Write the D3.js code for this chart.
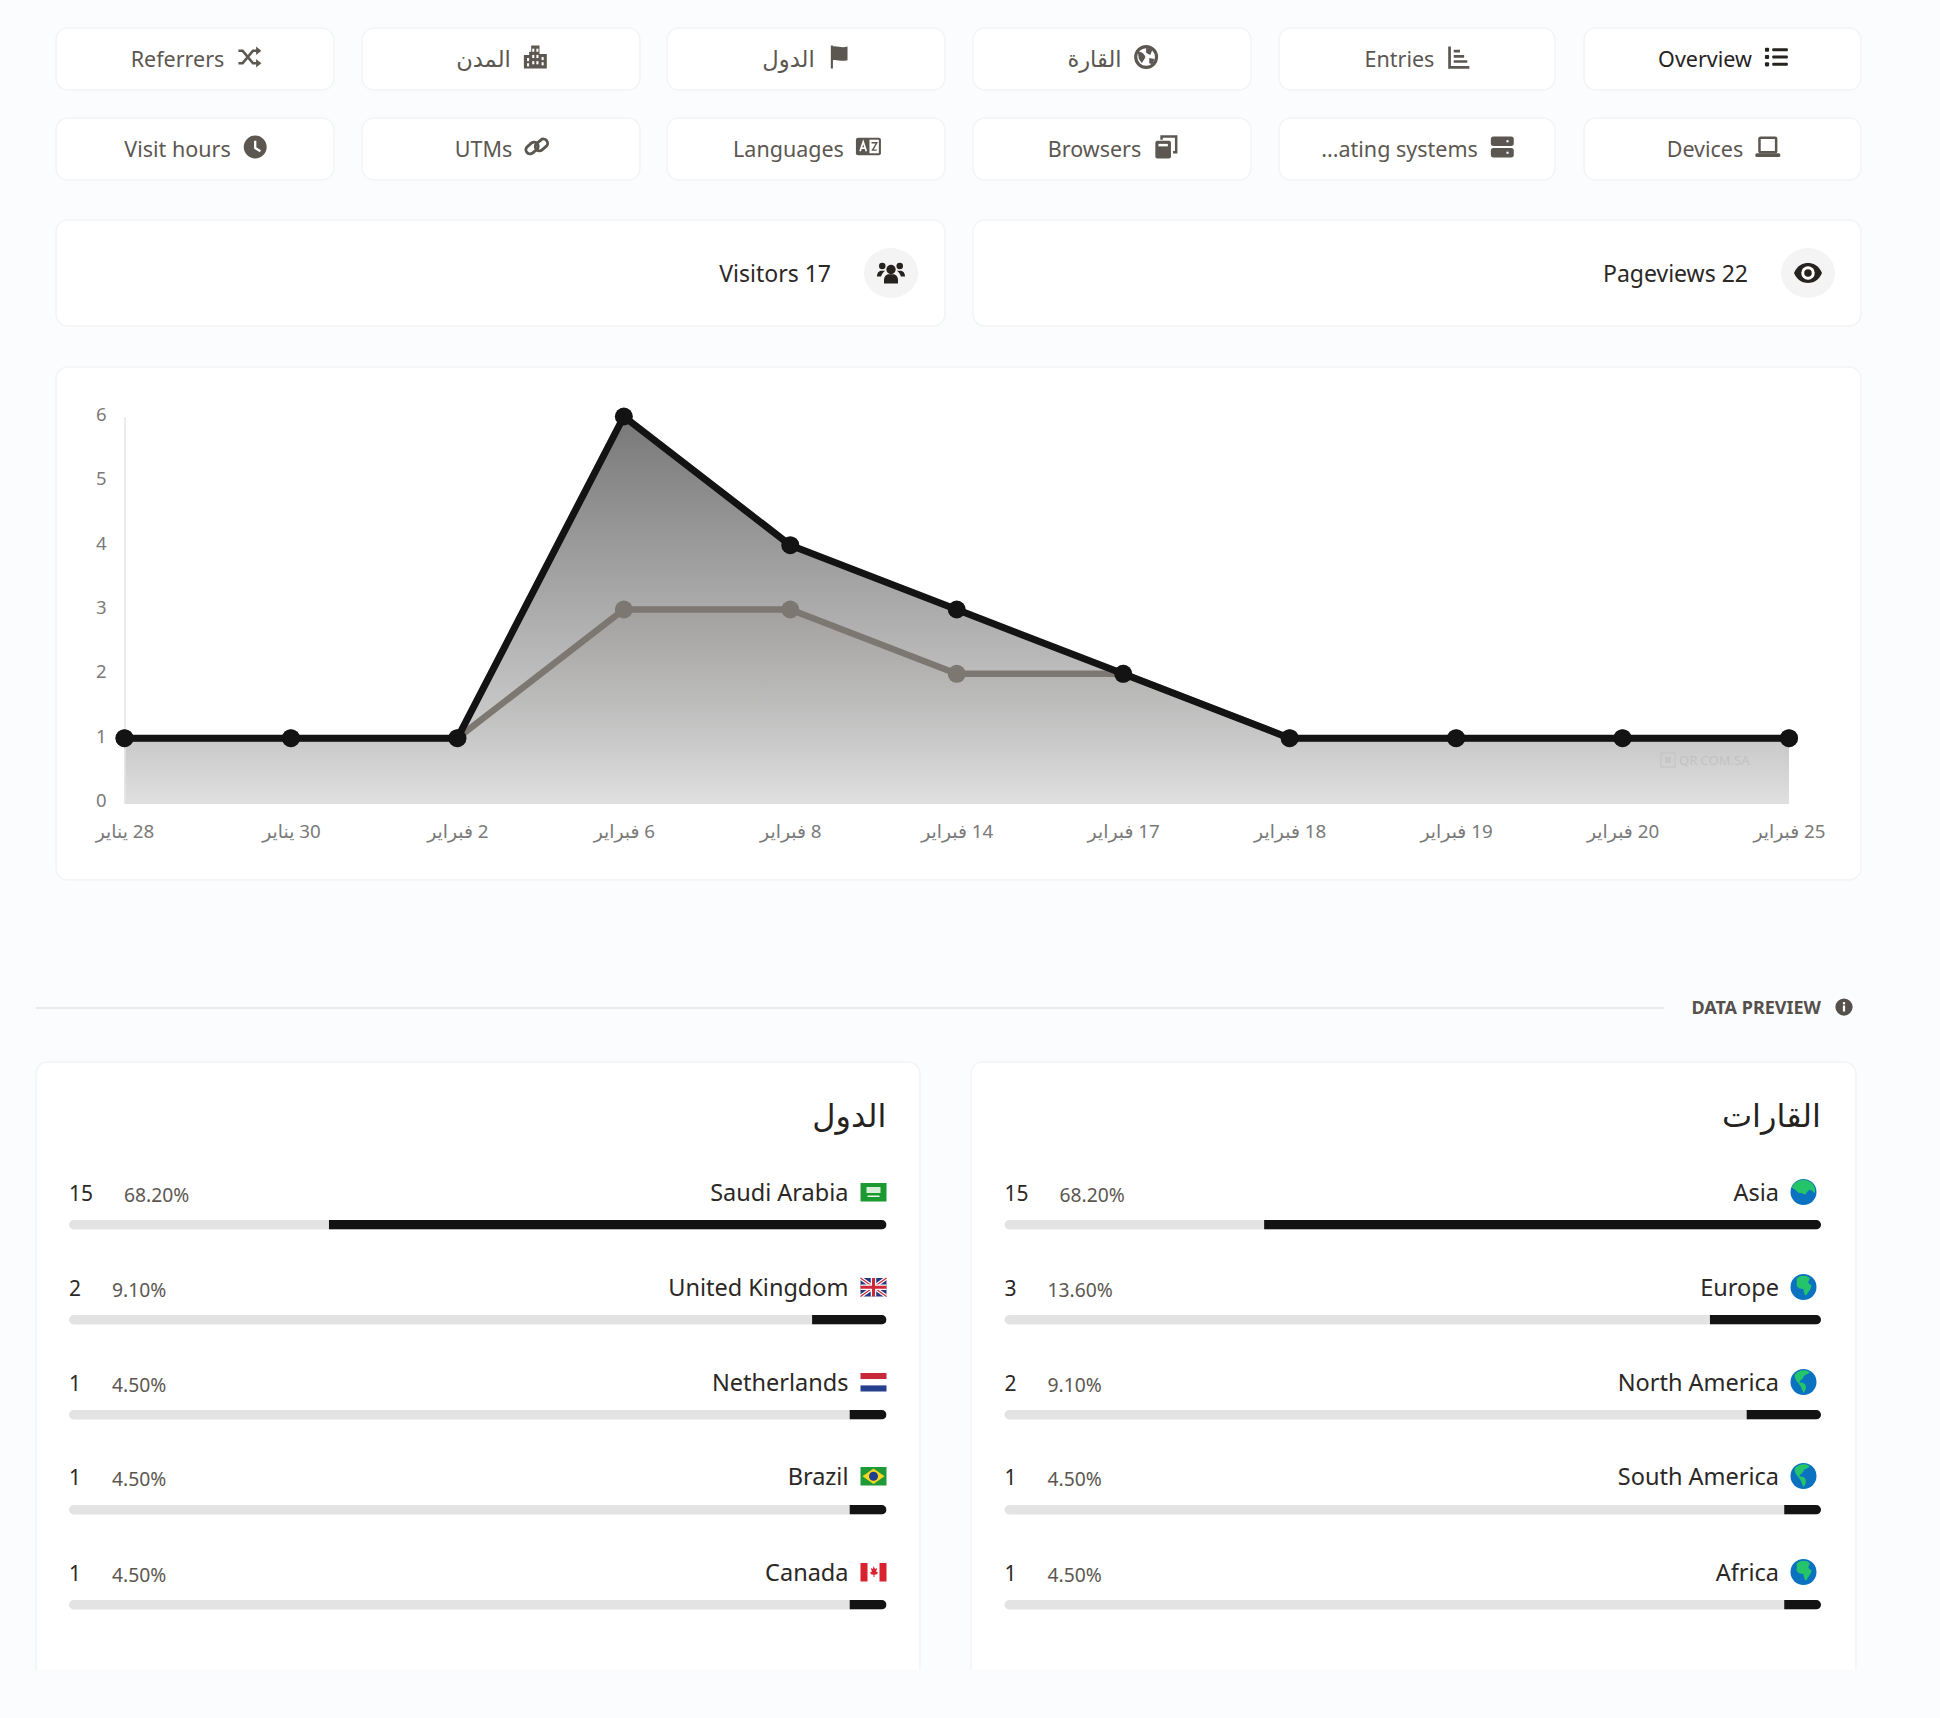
<!DOCTYPE html>
<html>
<head>
<meta charset="utf-8">
<script src="https://cdn.jsdelivr.net/npm/d3@7"></script>
<style>
  html, body { margin: 0; padding: 0; background: #fbfcfe; }
  svg { display: block; }
  text { font-family: "Noto Sans", "DejaVu Sans", sans-serif; }
</style>
</head>
<body>
<div id="page"></div>
<script>
// chart data
const dateLabels = ["28 يناير", "30 يناير", "2 فبراير", "6 فبراير", "8 فبراير", "14 فبراير", "17 فبراير", "18 فبراير", "19 فبراير", "20 فبراير", "25 فبراير"];
const pageviews = [1, 1, 1, 6, 4, 3, 2, 1, 1, 1, 1];
const visitors = [1, 1, 1, 3, 3, 2, 2, 1, 1, 1, 1];

// tabs, listed left to right as they sit on the page
const tabRow1 = ["Referrers", "المدن", "الدول", "القارة", "Entries", "Overview"];
const tabRow1Icons = ["shuffle", "city", "flag", "globe", "chart", "list"];
const tabRow2 = ["Visit hours", "UTMs", "Languages", "Browsers", "...ating systems", "Devices"];
const tabRow2Icons = ["clock", "link", "language", "copy", "server", "laptop"];

const statLabels = ["Visitors 17", "Pageviews 22"];
const statIcons = ["users", "eye"];

const countryNames = ["Saudi Arabia", "United Kingdom", "Netherlands", "Brazil", "Canada"];
const countryCounts = [15, 2, 1, 1, 1];
const countryPercents = [68.2, 9.1, 4.5, 4.5, 4.5];
const countryFlags = ["sa", "gb", "nl", "br", "ca"];

const continentNames = ["Asia", "Europe", "North America", "South America", "Africa"];
const continentCounts = [15, 3, 2, 1, 1];
const continentPercents = [68.2, 13.6, 9.1, 4.5, 4.5];
const continentGlobes = ["asia", "africa", "america", "america", "africa"];

const iconShapes = {
  shuffle: '<path d="M2 6h4l10 12h5M2 18h4l10-12h5" fill="none" stroke="currentColor" stroke-width="2.6"/><path d="M19 2l5 4-5 4zM19 14l5 4-5 4z" fill="currentColor"/>',
  city: '<path d="M1 10h5v-3h2v-6h8v8h7v14H1z" fill="currentColor"/><g fill="#fff"><rect x="4" y="13" width="2" height="3"/><rect x="4" y="18" width="2" height="3"/><rect x="9" y="4" width="2" height="3"/><rect x="13" y="4" width="2" height="3"/><rect x="9" y="10" width="2" height="3"/><rect x="13" y="10" width="2" height="3"/><rect x="9" y="16" width="2" height="3"/><rect x="13" y="16" width="2" height="3"/><rect x="18" y="12" width="2" height="3"/><rect x="18" y="17" width="2" height="3"/></g>',
  flag: '<path d="M4 1h2v1c4-1 8 2 14 0v13c-6 2-10-1-14 0v8H4z" fill="currentColor"/>',
  globe: '<circle cx="12" cy="12" r="10" fill="none" stroke="currentColor" stroke-width="3"/><path d="M4 7c4 0 6 2 7 4s-2 4-3 7l-3-4zM12 3l6 2-2 5-4-2zM15 13l5 1-2 5-3-1z" fill="currentColor"/>',
  chart: '<path d="M3 2v20h19" fill="none" stroke="currentColor" stroke-width="2.6"/><path d="M7 5h6v2.6H7zM7 10h10v2.6H7zM7 15h13v2.6H7z" fill="currentColor"/>',
  list: '<g fill="currentColor"><rect x="1" y="3" width="4" height="4" rx="1"/><rect x="1" y="10" width="4" height="4" rx="1"/><rect x="1" y="17" width="4" height="4" rx="1"/><rect x="8" y="3.5" width="15" height="3" rx="1"/><rect x="8" y="10.5" width="15" height="3" rx="1"/><rect x="8" y="17.5" width="15" height="3" rx="1"/></g>',
  clock: '<circle cx="12" cy="12" r="11" fill="currentColor"/><path d="M12 6v7l5 3" fill="none" stroke="#fff" stroke-width="2.2"/>',
  link: '<g fill="none" stroke="currentColor" stroke-width="2.8"><rect x="1" y="9" width="13" height="8" rx="4" transform="rotate(-40 7.5 13)"/><rect x="10" y="6" width="13" height="8" rx="4" transform="rotate(-40 16.5 10)"/></g>',
  language: '<rect x="0" y="3" width="24" height="17" rx="2" fill="currentColor"/><rect x="13" y="5" width="9" height="13" fill="#fff"/><path d="M4 16l3-9 3 9M5 13h4" fill="none" stroke="#fff" stroke-width="1.6"/><path d="M15 8h5l-4 7h4" fill="none" stroke="currentColor" stroke-width="1.4"/>',
  copy: '<path d="M8 5V2h14v15h-3" fill="none" stroke="currentColor" stroke-width="2.4"/><rect x="2" y="6" width="15" height="17" rx="2" fill="currentColor"/><rect x="5" y="9" width="9" height="2.4" fill="#fff"/>',
  server: '<g fill="currentColor"><rect x="1" y="2" width="22" height="9" rx="2.5"/><rect x="1" y="13" width="22" height="9" rx="2.5"/></g><g fill="#fff"><rect x="16" y="5.5" width="2" height="2"/><rect x="16" y="16.5" width="2" height="2"/></g>',
  laptop: '<rect x="4" y="3" width="16" height="14" rx="1" fill="none" stroke="currentColor" stroke-width="2.4"/><rect x="0" y="18" width="24" height="3.6" rx="1.5" fill="currentColor"/>',
  users: '<g fill="currentColor"><circle cx="12" cy="9" r="4"/><circle cx="4.5" cy="6" r="2.8"/><circle cx="19.5" cy="6" r="2.8"/><path d="M6 21v-3c0-3 2-5 4-5h4c2 0 4 2 4 5v3z"/><path d="M0 15c0-3 1.5-5 4-5h3c-2 1.4-3 3-3.5 5zM24 15c0-3-1.5-5-4-5h-3c2 1.4 3 3 3.5 5z"/></g>',
  eye: '<path d="M0 12C3 5 8 3.5 12 3.5S21 5 24 12c-3 7-8 8.5-12 8.5S3 19 0 12z" fill="currentColor"/><circle cx="12" cy="12" r="5.8" fill="#fff"/><circle cx="12" cy="12" r="3.2" fill="currentColor"/>',
  info: '<circle cx="12" cy="12" r="11.5" fill="currentColor"/><rect x="10.5" y="10" width="3" height="8" fill="#fff"/><rect x="10.5" y="5.5" width="3" height="3" fill="#fff"/>'
};

const flagShapes = {
  sa: '<rect width="26" height="18.5" fill="#1c9a32"/><rect x="6" y="4" width="14" height="6" fill="#d6efd6"/><rect x="7" y="12.5" width="12" height="1.5" fill="#e8f5e8"/>',
  gb: '<rect width="26" height="18.5" fill="#24387f"/><path d="M0 0L26 18.5M26 0L0 18.5" stroke="#fff" stroke-width="3.5"/><path d="M0 0L26 18.5M26 0L0 18.5" stroke="#d0283a" stroke-width="1.2"/><path d="M13 0V18.5M0 9.25H26" stroke="#fff" stroke-width="5.5"/><path d="M13 0V18.5M0 9.25H26" stroke="#d0283a" stroke-width="3"/>',
  nl: '<rect width="26" height="6.2" fill="#c8283a"/><rect y="6.2" width="26" height="6.2" fill="#fff"/><rect y="12.4" width="26" height="6.1" fill="#26408f"/>',
  br: '<rect width="26" height="18.5" fill="#1f9a39"/><path d="M13 1.5L24 9.25 13 17 2 9.25z" fill="#f7d520"/><circle cx="13" cy="9.25" r="4.5" fill="#1d3f8f"/>',
  ca: '<rect width="26" height="18.5" fill="#fff"/><rect width="7" height="18.5" fill="#d8232f"/><rect x="19" width="7" height="18.5" fill="#d8232f"/><path d="M13 3l1.5 3 2-1-.8 4 1.8.2-1 2-2.5.5v2.3h-1V11.7L10.5 11.2l-1-2 1.8-.2-.8-4 2 1z" fill="#d8232f"/>'
};

const globeShapes = {
  asia: '<path d="M1 9C4 2 12-1 18 2c5 2 8 8 6 12-2-1-3-4-5-3-3 1-3 6-6 4-2-2-4 0-6-2C5 11 3 9 1 9z" fill="#25c46a"/>',
  africa: '<path d="M6 5c3-4 10-4 13-1 1 2-2 3-1 5s3 1 3 3c-1 4-3 5-5 9-2 1-3-4-3-6-3 0-6-1-7-4 0-2 1-3 0-6z" fill="#25c46a"/>',
  america: '<path d="M4 6c3-5 11-6 15-3-1 3-5 2-6 5s-4 3-4 6c2-1 5 0 6 2 1 3 0 6-2 8-1-2-2-5-3-7S4 11 4 6z" fill="#25c46a"/>'
};

const W = 1940, H = 1718;
const svg = d3.select("#page").append("svg").attr("width", W).attr("height", H);
const defs = svg.append("defs");

svg.append("rect").attr("width", W).attr("height", H).attr("fill", "#fbfcfe");

function card(x0, y0, x1, y1) {
  svg.append("rect")
    .attr("x", x0).attr("y", y0)
    .attr("width", x1 - x0).attr("height", y1 - y0)
    .attr("rx", 12)
    .attr("fill", "#fff")
    .attr("stroke", "#f3f4f6")
    .attr("stroke-width", 1.5);
}

function drawIcon(name, x, y, size, color) {
  svg.append("g")
    .attr("transform", "translate(" + x + "," + y + ") scale(" + size / 24 + ")")
    .style("color", color)
    .html(iconShapes[name]);
}

// top tabs
const tabX = [[56, 334], [362, 640], [667, 945], [973, 1251], [1279, 1555], [1584, 1861]];

function drawTabs(labels, icons, y0, y1) {
  labels.forEach(function(label, i) {
    card(tabX[i][0], y0, tabX[i][1], y1);
    const color = label == "Overview" ? "#26231f" : "#5c5751";
    const isArabic = /[\u0600-\u06FF]/.test(label);
    const t = svg.append("text")
      .attr("y", (y0 + y1) / 2 + 7.5)
      .attr("font-size", isArabic ? 22.6 : 21.5)
      .attr("fill", color)
      .text(label);
    const tw = t.node().getComputedTextLength();
    const cx = (tabX[i][0] + tabX[i][1]) / 2;
    const left = cx - (tw + 13 + 22) / 2;
    t.attr("x", left);
    drawIcon(icons[i], left + tw + 12, (y0 + y1) / 2 - 14.5, 25, color);
  });
}
drawTabs(tabRow1, tabRow1Icons, 28, 90);
drawTabs(tabRow2, tabRow2Icons, 118, 180);

// stat cards
const statBoxes = [[56, 945, 831, 891], [973, 1861, 1748, 1808]];
statLabels.forEach(function(label, i) {
  const b = statBoxes[i];
  card(b[0], 220, b[1], 326);
  svg.append("text")
    .attr("x", b[2]).attr("y", 282)
    .attr("text-anchor", "end")
    .attr("font-size", 23)
    .attr("fill", "#2b2825")
    .text(label);
  svg.append("ellipse")
    .attr("cx", b[3]).attr("cy", 273).attr("rx", 27).attr("ry", 25)
    .attr("fill", "#f4f4f4");
  drawIcon(statIcons[i], b[3] - 14, 259, 28, "#26231f");
});

// line chart
card(56, 367, 1861, 880);

const x = d3.scalePoint().domain(dateLabels).range([124.5, 1789]);
const y = d3.scaleLinear().domain([0, 6]).range([802.5, 416.5]);

const pvGrad = defs.append("linearGradient").attr("id", "pvGrad")
  .attr("gradientUnits", "userSpaceOnUse")
  .attr("x1", 0).attr("x2", 0).attr("y1", y(6)).attr("y2", y(0));
pvGrad.append("stop").attr("offset", "0%").attr("stop-color", "#787878");
pvGrad.append("stop").attr("offset", "100%").attr("stop-color", "#dfdfdf");

const visGrad = defs.append("linearGradient").attr("id", "visGrad")
  .attr("gradientUnits", "userSpaceOnUse")
  .attr("x1", 0).attr("x2", 0).attr("y1", y(3)).attr("y2", y(0));
visGrad.append("stop").attr("offset", "0%").attr("stop-color", "#78716c").attr("stop-opacity", 0.18);
visGrad.append("stop").attr("offset", "100%").attr("stop-color", "#78716c").attr("stop-opacity", 0);

// area sits a hair under the zero line like the reference
const area = d3.area()
  .x(function(d, i) { return x(dateLabels[i]); })
  .y0(y(0) + 1.5)
  .y1(function(d) { return y(d); });
const line = d3.line()
  .x(function(d, i) { return x(dateLabels[i]); })
  .y(function(d) { return y(d); });

svg.append("path").attr("d", area(pageviews)).attr("fill", "url(#pvGrad)");
svg.append("path").attr("d", area(visitors)).attr("fill", "url(#visGrad)");

// faint watermark inside the area
svg.append("rect").attr("x", 1661).attr("y", 753).attr("width", 14).attr("height", 14)
  .attr("fill", "none").attr("stroke", "#c2c2c2").attr("stroke-width", 1);
svg.append("rect").attr("x", 1665).attr("y", 757).attr("width", 6).attr("height", 6)
  .attr("fill", "#c6c6c6");
svg.append("text").attr("x", 1679).attr("y", 765).attr("font-size", 13)
  .attr("fill", "#c2c2c2").text("QR COM.SA");

// axes
const yAxis = d3.axisLeft(y).tickValues([0, 1, 2, 3, 4, 5, 6]).tickFormat(d3.format("d")).tickSize(0).tickPadding(18);
const yG = svg.append("g").attr("transform", "translate(124.5,0)").call(yAxis);
yG.select(".domain").attr("stroke", "#e5e5e5").attr("stroke-width", 1.5);
yG.selectAll("text")
  .attr("font-size", 18.5).attr("fill", "#7a7a7a").attr("dy", "0.22em");

const xAxis = d3.axisBottom(x).tickSize(0).tickPadding(22);
const xG = svg.append("g").attr("transform", "translate(0,802.5)").call(xAxis);
xG.select(".domain").remove();
xG.selectAll("text")
  .attr("font-size", 18.8).attr("fill", "#7a7a7a").attr("direction", "rtl");

// visitors below, pageviews on top
svg.append("path").attr("d", line(visitors)).attr("fill", "none").attr("stroke", "#7d7772").attr("stroke-width", 6.5);
svg.selectAll("circle.vis").data(visitors).enter().append("circle")
  .attr("class", "vis")
  .attr("cx", function(d, i) { return x(dateLabels[i]); })
  .attr("cy", function(d) { return y(d); })
  .attr("r", 9)
  .attr("fill", "#7d7772");
svg.append("path").attr("d", line(pageviews)).attr("fill", "none").attr("stroke", "#131313").attr("stroke-width", 7);
svg.selectAll("circle.pv").data(pageviews).enter().append("circle")
  .attr("class", "pv")
  .attr("cx", function(d, i) { return x(dateLabels[i]); })
  .attr("cy", function(d) { return y(d); })
  .attr("r", 9)
  .attr("fill", "#131313");

// data preview divider
svg.append("line").attr("x1", 36).attr("x2", 1664).attr("y1", 1008).attr("y2", 1008)
  .attr("stroke", "#e2e3e5").attr("stroke-width", 1.5);
svg.append("text").attr("x", 1821).attr("y", 1014).attr("text-anchor", "end")
  .attr("font-size", 18).attr("font-weight", 700).attr("fill", "#55504b").text("DATA PREVIEW");
drawIcon("info", 1835, 998, 18, "#55504b");

// bottom panels
const rowY = [1193, 1288, 1383, 1477, 1573];
const barY = [1220, 1315, 1410, 1505, 1600];
const barH = 9.5;

function panel(px0, px1, left, right, nameGap, title, names, counts, percents, drawMark) {
  // card runs off at the bottom, so no bottom edge
  svg.append("path")
    .attr("d", "M" + px0 + " 1670V1074a12 12 0 0 1 12-12H" + (px1 - 12) + "a12 12 0 0 1 12 12V1670")
    .attr("fill", "#fff").attr("stroke", "#f3f4f6").attr("stroke-width", 1.5);

  // rtl text: start is the right edge
  svg.append("text").attr("x", right).attr("y", 1127).attr("text-anchor", "start")
    .attr("font-size", 32).attr("fill", "#26231f").attr("direction", "rtl").text(title);

  const w = d3.scaleLinear().domain([0, 100]).range([0, right - left]);

  names.forEach(function(name, i) {
    svg.append("text").attr("x", right - nameGap).attr("y", rowY[i] + 8).attr("text-anchor", "end")
      .attr("font-size", 23.5).attr("fill", "#2b2825").text(name);
    const c = svg.append("text").attr("x", left).attr("y", rowY[i] + 8)
      .attr("font-size", 21).attr("fill", "#2b2825").text(counts[i]);
    svg.append("text").attr("x", left + c.node().getComputedTextLength() + 31).attr("y", rowY[i] + 9)
      .attr("font-size", 19.3).attr("fill", "#5c5751").text(percents[i].toFixed(2) + "%");

    drawMark(i, right);

    const clipId = "clip" + left + "_" + i;
    defs.append("clipPath").attr("id", clipId).append("rect")
      .attr("x", left).attr("y", barY[i]).attr("width", right - left).attr("height", barH).attr("rx", 4.75);
    svg.append("rect").attr("x", left).attr("y", barY[i]).attr("width", right - left).attr("height", barH)
      .attr("rx", 4.75).attr("fill", "#e4e3e3");
    svg.append("rect").attr("x", right - w(percents[i])).attr("y", barY[i])
      .attr("width", w(percents[i])).attr("height", barH)
      .attr("clip-path", "url(#" + clipId + ")")
      .attr("fill", "#131313");
  });
}

panel(36, 920, 69, 886.5, 38, "الدول", countryNames, countryCounts, countryPercents, function(i, right) {
  svg.append("g").attr("transform", "translate(" + (right - 26) + "," + (rowY[i] - 10) + ")")
    .html(flagShapes[countryFlags[i]]);
});

panel(971, 1856, 1004.5, 1821, 42, "القارات", continentNames, continentCounts, continentPercents, function(i, right) {
  const g = svg.append("g").attr("transform", "translate(" + (right - 30.5) + "," + (rowY[i] - 14) + ")");
  g.append("circle").attr("cx", 13).attr("cy", 13).attr("r", 13).attr("fill", "#0b72c0");
  const clipId = "globe" + i;
  defs.append("clipPath").attr("id", clipId).append("circle").attr("cx", 13).attr("cy", 13).attr("r", 13);
  g.append("g").attr("clip-path", "url(#" + clipId + ")").html(globeShapes[continentGlobes[i]]);
});
</script>
</body>
</html>
